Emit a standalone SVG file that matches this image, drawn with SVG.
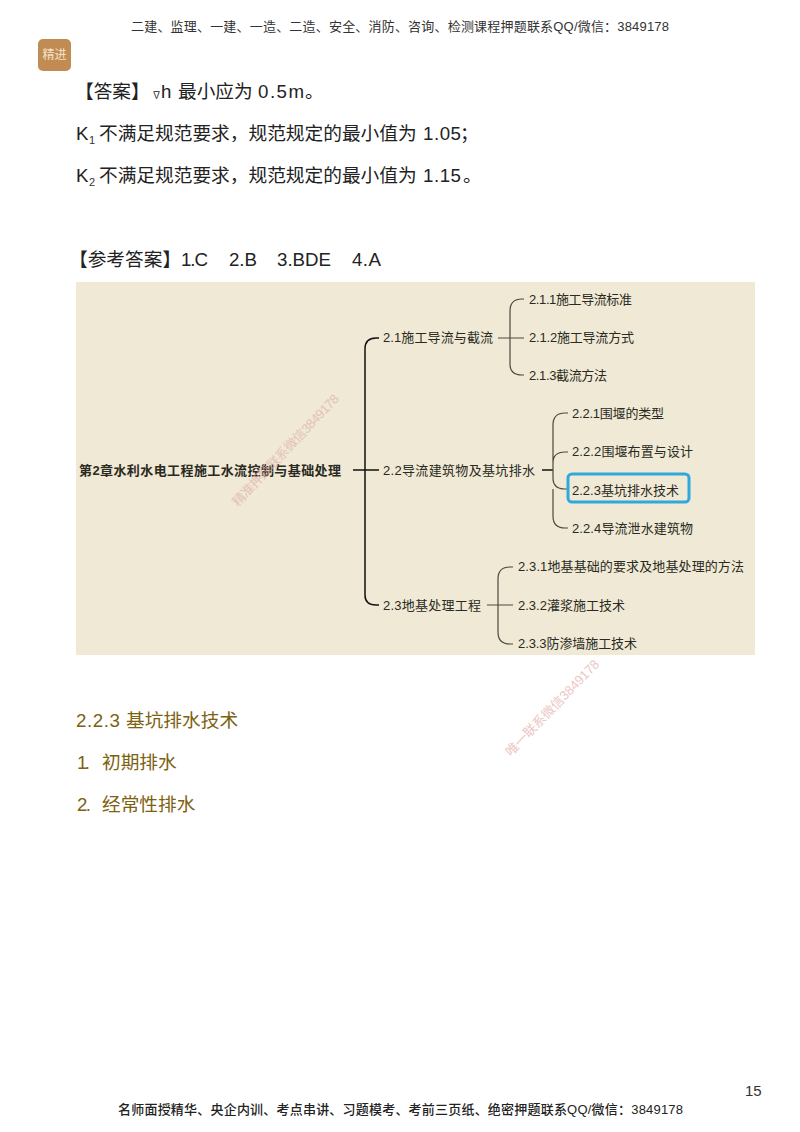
<svg xmlns="http://www.w3.org/2000/svg" width="800" height="1132" viewBox="0 0 800 1132">
<style>
text{font-family:"Liberation Sans","Noto Sans CJK SC",sans-serif;fill:#222}
.hd{font-size:13px;fill:#333}
.bd{font-size:18.7px;fill:#222}
.sub{font-size:11px;fill:#333}
.gold{font-size:18.7px;fill:#7d6110}
.n{font-size:13px;fill:#2a2a22}
.wm{font-size:13px;fill:#e2b0ae;opacity:.7}
.c{fill:none;stroke:#4a4a40;stroke-width:1.2}
.c2{fill:none;stroke:#111;stroke-width:1.5}
</style>
<rect width="800" height="1132" fill="#fff"/>
<text class="hd" x="131" y="31" textLength="538" lengthAdjust="spacing">二建、监理、一建、一造、二造、安全、消防、咨询、检测课程押题联系QQ/微信：3849178</text>
<g id="badge"><rect x="38" y="39" width="33" height="32" rx="5" fill="#c18c54"/><text x="54.500" y="59" text-anchor="middle" style="font-size:12px;fill:#f3e2c6">精进</text></g>
<text class="bd" x="75" y="98">【答案】<tspan x="152" style="font-size:9px">∇</tspan><tspan x="161">h</tspan><tspan x="178">最小应为</tspan></text><text class="bd" x="258" y="98" textLength="46" lengthAdjust="spacing">0.5m</text><text class="bd" x="305" y="98">。</text>
<text class="bd" x="76" y="140">K</text><text class="sub" x="89" y="144">1</text>
<text class="bd" x="99" y="140">不满足规范要求，规范规定的最小值为</text><text class="bd" x="423" y="140" textLength="38" lengthAdjust="spacing">1.05</text><text class="bd" x="460" y="140">；</text>
<text class="bd" x="76" y="182">K</text><text class="sub" x="89" y="186">2</text>
<text class="bd" x="99" y="182">不满足规范要求，规范规定的最小值为</text><text class="bd" x="423" y="182" textLength="38" lengthAdjust="spacing">1.15</text><text class="bd" x="463" y="182">。</text>
<text class="bd" x="69" y="266">【参考答案】</text><text class="bd" x="181" y="266" textLength="27" lengthAdjust="spacing">1.C</text><text class="bd" x="229" y="266" textLength="28" lengthAdjust="spacing">2.B</text><text class="bd" x="277" y="266" textLength="54" lengthAdjust="spacing">3.BDE</text><text class="bd" x="352" y="266" textLength="29" lengthAdjust="spacing">4.A</text>
<rect id="panel" x="76" y="282" width="679" height="373" fill="#efe9d5"/>
<g id="connectors">
<path class="c2" d="M353 470H379M365 470V349Q365 338 376 338H379M365 470V595Q365 605 376 605H379"/>
<path class="c" d="M498 338H524M510 338V311Q510 299 522 299H524M510 338V364Q510 375 522 375H524"/>
<path class="c2" d="M542 470H553"/>
<path class="c" d="M553 470V425Q553 413 565 413H568M553 470V463Q553 452 565 452H568M553 470V478Q553 489 565 489H568M553 489V516Q553 528 565 528H568"/>
<path class="c" d="M487 605H513M498 605V579Q498 567 510 567H513M498 605V632Q498 644 510 644H513"/>
</g>
<g id="root"><text class="n" x="79" y="475" textLength="262" lengthAdjust="spacing" style="font-weight:700">第2章水利水电工程施工水流控制与基础处理</text></g>
<g id="n21"><text class="n" x="383" y="342" textLength="110" lengthAdjust="spacing">2.1施工导流与截流</text></g>
<g id="n22"><text class="n" x="383" y="475" textLength="152" lengthAdjust="spacing">2.2导流建筑物及基坑排水</text></g>
<g id="n23"><text class="n" x="383" y="610" textLength="98" lengthAdjust="spacing">2.3地基处理工程</text></g>
<g id="n211"><text class="n" x="529" y="304" textLength="103" lengthAdjust="spacing">2.1.1施工导流标准</text></g>
<g id="n212"><text class="n" x="529" y="342" textLength="105" lengthAdjust="spacing">2.1.2施工导流方式</text></g>
<g id="n213"><text class="n" x="529" y="380" textLength="78" lengthAdjust="spacing">2.1.3截流方法</text></g>
<g id="n221"><text class="n" x="572" y="418" textLength="92" lengthAdjust="spacing">2.2.1围堰的类型</text></g>
<g id="n222"><text class="n" x="572" y="456" textLength="121" lengthAdjust="spacing">2.2.2围堰布置与设计</text></g>
<g id="n223"><rect x="568" y="474" width="121" height="28" rx="4" fill="none" stroke="#2fa9dc" stroke-width="3"/><text class="n" x="572" y="495" textLength="107" lengthAdjust="spacing">2.2.3基坑排水技术</text></g>
<g id="n224"><text class="n" x="572" y="533" textLength="121" lengthAdjust="spacing">2.2.4导流泄水建筑物</text></g>
<g id="n231"><text class="n" x="518" y="571" textLength="226" lengthAdjust="spacing">2.3.1地基基础的要求及地基处理的方法</text></g>
<g id="n232"><text class="n" x="518" y="610" textLength="107" lengthAdjust="spacing">2.3.2灌浆施工技术</text></g>
<g id="n233"><text class="n" x="518" y="648" textLength="119" lengthAdjust="spacing">2.3.3防渗墙施工技术</text></g>
<text class="wm" transform="translate(238 507) rotate(-46.600)" textLength="148" lengthAdjust="spacing">精准押题联系微信3849178</text>
<text class="wm" transform="translate(511 757) rotate(-46)" textLength="128" lengthAdjust="spacing">唯一联系微信3849178</text>
<text class="gold" x="76" y="727" textLength="44" lengthAdjust="spacing">2.2.3</text><text class="gold" x="126" y="727">基坑排水技术</text>
<text class="gold" x="77" y="769" textLength="13" lengthAdjust="spacing">1.</text><text class="gold" x="102" y="769">初期排水</text>
<text class="gold" x="77" y="811" textLength="14" lengthAdjust="spacing">2.</text><text class="gold" x="102" y="811">经常性排水</text>
<text x="745" y="1096" style="font-size:15px;fill:#333">15</text>
<text class="hd" x="118" y="1114" textLength="565" lengthAdjust="spacing" style="font-weight:500;fill:#222">名师面授精华、央企内训、考点串讲、习题模考、考前三页纸、绝密押题联系QQ/微信：3849178</text>
</svg>
